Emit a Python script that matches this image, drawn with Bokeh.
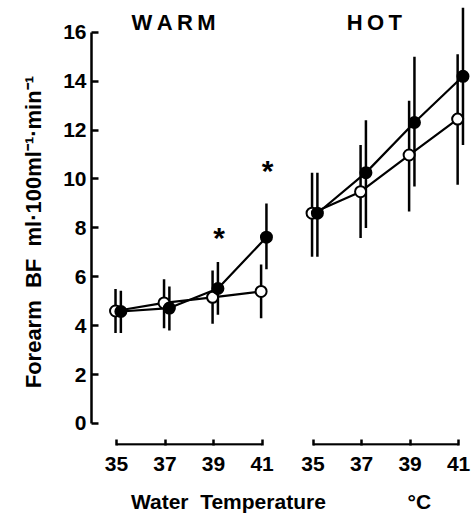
from bokeh.plotting import figure
from bokeh.models import Range1d, FixedTicker
from bokeh.core.properties import value
from bokeh.embed import file_html
from bokeh.resources import INLINE

# ---- data ----
temps = [35, 37, 39, 41]
groups = ["WARM", "HOT"]

warm_open = [4.6, 4.93, 5.16, 5.4]
warm_open_lo = [3.7, 3.9, 4.08, 4.3]
warm_open_hi = [5.5, 5.9, 6.26, 6.5]
warm_filled = [4.58, 4.72, 5.52, 7.62]
warm_filled_lo = [3.7, 3.8, 4.45, 6.31]
warm_filled_hi = [5.43, 5.6, 6.6, 9.0]

hot_open = [8.6, 9.48, 10.98, 12.45]
hot_open_lo = [6.82, 7.59, 8.67, 9.76]
hot_open_hi = [10.26, 11.39, 13.2, 15.1]
hot_filled = [8.6, 10.26, 12.31, 14.2]
hot_filled_lo = [6.82, 8.0, 9.69, 11.39]
hot_filled_hi = [10.26, 12.4, 15.0, 17.0]

sig_temps = [39, 41]          # asterisks in WARM (filled series)
sig_values = [7.67, 10.41]

y_ticks = [0, 2, 4, 6, 8, 10, 12, 14, 16]

# ---- layout helpers (x in tenths of a degree, HOT panel shifted) ----
GROUP_SHIFT = {"WARM": 0, "HOT": 81}
def xpos(t, g, off=0.0):
    return (t - 35) * 10 + GROUP_SHIFT[g] + off

FONT = "Liberation Sans"
OPEN_OFF = -0.4
FILL_OFF = 1.8

p = figure(width=472, height=515,
           x_range=Range1d(-10.3, 145.9), y_range=Range1d(-0.9, 17.3),
           output_backend="svg", toolbar_location=None,
           min_border_left=91, min_border_right=2, min_border_top=0, min_border_bottom=69)
p.grid.visible = False
p.outline_line_color = None
p.background_fill_color = "white"

# y axis
ya = p.yaxis[0]
ya.ticker = FixedTicker(ticks=y_ticks)
ya.bounds = (0, 16)
ya.axis_line_width = 2.5
ya.axis_line_color = "black"
ya.major_tick_in = 7
ya.major_tick_out = 0
ya.major_tick_line_width = 2.5
ya.major_tick_line_color = "black"
ya.minor_tick_line_color = None
ya.major_label_text_font = FONT
ya.major_label_text_font_style = "bold"
ya.major_label_text_font_size = "21px"
ya.major_label_text_color = "black"
ya.major_label_standoff = 5
ya.axis_label = "Forearm\u00a0\u00a0BF\u00a0\u00a0ml\u00b7100ml\u207b\u00b9\u00b7min\u207b\u00b9\u00a0\u00a0\u00a0"
ya.axis_label_text_font = FONT
ya.axis_label_text_font_style = "bold"
ya.axis_label_text_font_size = "22px"
ya.axis_label_text_color = "black"
ya.axis_label_standoff = 14

# x axis
xa = p.xaxis[0]
tick_pos = [xpos(t, g) for g in groups for t in temps]
xa.ticker = FixedTicker(ticks=tick_pos)
xa.major_label_overrides = {xpos(t, g): str(t) for g in groups for t in temps}
xa.axis_line_color = None
xa.major_tick_in = 6
xa.major_tick_out = 0
xa.major_tick_line_width = 2.5
xa.major_tick_line_color = "black"
xa.minor_tick_line_color = None
xa.major_label_text_font = FONT
xa.major_label_text_font_style = "bold"
xa.major_label_text_font_size = "21px"
xa.major_label_text_color = "black"
xa.major_label_standoff = 11
xa.axis_label = "Water\u00a0\u00a0Temperature" + "\u00a0" * 14 + "\u00b0C"
xa.axis_label_text_font = FONT
xa.axis_label_text_font_style = "bold"
xa.axis_label_text_font_size = "21px"
xa.axis_label_text_color = "black"
xa.axis_label_standoff = 16

# x baselines (one per panel)
base_y = -0.86
p.segment(x0=[xpos(temps[0], g) for g in groups], x1=[xpos(temps[-1], g) for g in groups],
          y0=[base_y] * 2, y1=[base_y] * 2, line_color="black", line_width=2.5)

series = {
    "WARM": [(warm_open, warm_open_lo, warm_open_hi, OPEN_OFF, "white"),
             (warm_filled, warm_filled_lo, warm_filled_hi, FILL_OFF, "black")],
    "HOT": [(hot_open, hot_open_lo, hot_open_hi, OPEN_OFF, "white"),
            (hot_filled, hot_filled_lo, hot_filled_hi, FILL_OFF, "black")],
}

# error bars
for g in groups:
    for vals, lo, hi, off, fill in series[g]:
        xs = [xpos(t, g, off) for t in temps]
        p.segment(x0=xs, x1=xs, y0=lo, y1=hi, line_color="black", line_width=2.5)

# lines
for g in groups:
    for vals, lo, hi, off, fill in series[g]:
        xs = [xpos(t, g, off) for t in temps]
        p.line(xs, vals, line_color="black", line_width=2.2)

# markers
for g in groups:
    for vals, lo, hi, off, fill in series[g]:
        xs = [xpos(t, g, off) for t in temps]
        p.scatter(xs, vals, size=11, marker="circle", fill_color=fill,
                  line_color="black", line_width=2)

# asterisks
p.text(x=[xpos(t, "WARM", FILL_OFF) + 0.5 for t in sig_temps], y=[v - 0.08 for v in sig_values],
       text=["*"] * len(sig_temps), text_align="center", text_baseline="middle",
       text_font=value(FONT), text_font_style="bold", text_font_size="30px", text_color="black")

# panel titles
p.text(x=[23.5, 106.3], y=[16.4, 16.4],
       text=["W\u2009A\u2009R\u2009M", "H\u2009O\u2009T"],
       text_align="center", text_baseline="middle",
       text_font=value(FONT), text_font_style="bold", text_font_size="22px", text_color="black")

open("out.html", "w").write(file_html(p, INLINE))
